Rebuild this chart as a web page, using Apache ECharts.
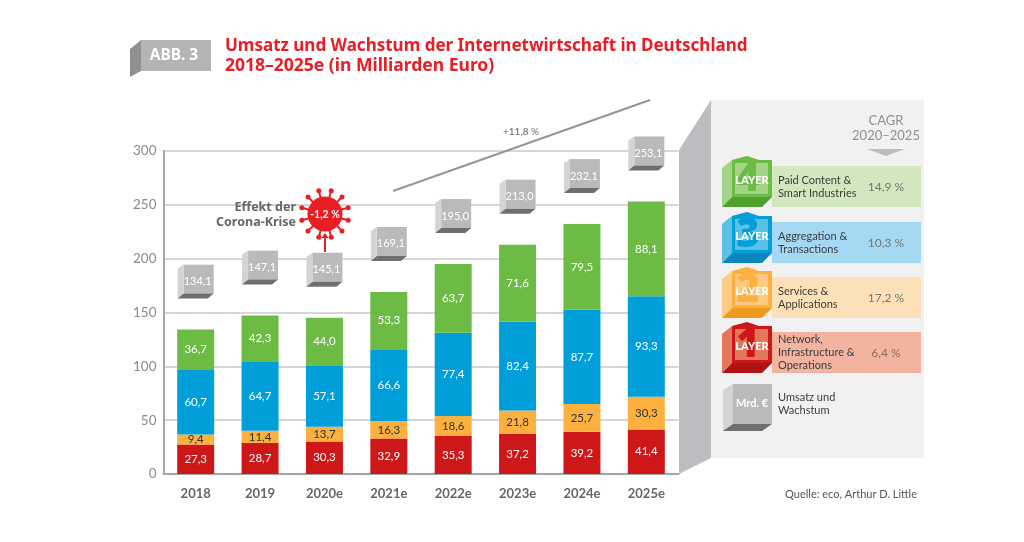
<!DOCTYPE html>
<html>
<head>
<meta charset="utf-8">
<style>
html, body { margin: 0; padding: 0; background: #fff; }
#main { width: 1024px; height: 542px; }
</style>
<script src="https://cdn.jsdelivr.net/npm/echarts@6/dist/echarts.min.js"></script>
</head>
<body>
<div id="main"></div>
<script>
const categories = ['2018', '2019', '2020e', '2021e', '2022e', '2023e', '2024e', '2025e'];
const network = [27.3, 28.7, 30.3, 32.9, 35.3, 37.2, 39.2, 41.4];
const services = [9.4, 11.4, 13.7, 16.3, 18.6, 21.8, 25.7, 30.3];
const aggregation = [60.7, 64.7, 57.1, 66.6, 77.4, 82.4, 87.7, 93.3];
const paid = [36.7, 42.3, 44.0, 53.3, 63.7, 71.6, 79.5, 88.1];
const totals = [134.1, 147.1, 145.1, 169.1, 195.0, 213.0, 232.1, 253.1];

const layerNames = [['Paid Content &', 'Smart Industries'], ['Aggregation &', 'Transactions'], ['Services &', 'Applications'], ['Network,', 'Infrastructure &', 'Operations']];
const layerNumbers = ['4', '3', '2', '1'];
const cagrValues = ['14,9 %', '10,3 %', '17,2 %', '6,4 %'];

const FONT = 'Lato';
const BOLD = '"Noto Sans"';
const RED = '#ea1c24';
const fmt = v => v.toFixed(1).replace('.', ',');

// farben: front, links, unten, band
const layerColors = [
    ['#6cbb45', '#a4d388', '#4fa02f', '#d2e7bd'],
    ['#009fda', '#5cc0e6', '#0a86bd', '#a5d8f2'],
    ['#fbb040', '#fcca82', '#f09a1e', '#fee0b8'],
    ['#cd1719', '#e2775c', '#b01316', '#f2b49e']
];

function barSeries(name, data, color, labelColor) {
    return {
        name: name,
        type: 'bar',
        stack: 'umsatz',
        barWidth: 37,
        data: data,
        itemStyle: { color: color },
        label: {
            show: true,
            position: 'inside',
            color: labelColor,
            fontFamily: FONT,
            fontSize: 11.5,
            formatter: p => fmt(p.value)
        }
    };
}

// grauer Wuerfel ueber dem Balken
function renderBox(params, api) {
    const p = api.coord([api.value(0), api.value(1)]);
    const cx = p[0];
    const front = p[1] - 36;
    const l = cx - 12, r = cx + 18, t = p[1] - 65;
    return {
        type: 'group',
        children: [
            { type: 'polygon', shape: { points: [[l, t], [r, t], [r, front], [l, front]] }, style: { fill: '#b9babc' } },
            { type: 'polygon', shape: { points: [[l - 6, t + 4], [l, t], [l, front], [l - 6, front + 5]] }, style: { fill: '#d3d4d6' } },
            { type: 'polygon', shape: { points: [[l - 6, front + 5], [l, front], [r, front], [r - 6, front + 5]] }, style: { fill: '#6e6f71' } },
            { type: 'text', style: { x: cx + 2, y: p[1] - 48, text: fmt(api.value(1)), fill: '#fff', font: '11px ' + FONT, align: 'center', verticalAlign: 'middle' } }
        ]
    };
}

function poly(points, fill) {
    return { type: 'polygon', shape: { points: points }, style: { fill: fill }, z: 5 };
}

function txt(x, y, text, font, fill, align, family) {
    return { type: 'text', x: x, y: y, style: { text: text, font: font + ' ' + (family || FONT), fill: fill, align: align || 'left', verticalAlign: 'middle' }, z: 7 };
}

function layerGraphics(i, top) {
    const c = layerColors[i];
    const out = [
        { type: 'rect', shape: { x: 772, y: top, width: 149, height: 41 }, style: { fill: c[3] }, z: 4 },
        poly([[732, top - 6], [747, top - 10], [759, top - 6], [772, top - 6], [772, top + 31], [732, top + 31]], c[0]),
        poly([[722, top + 2], [732, top - 6], [732, top + 31], [722, top + 41]], c[1]),
        poly([[722, top + 41], [732, top + 31], [772, top + 31], [762, top + 41]], c[2]),
        { type: 'rect', shape: { x: 735, y: top - 3, width: 33, height: 31 }, style: { fill: c[1] }, z: 5 },
        { type: 'text', x: 748, y: top + 14, style: { text: layerNumbers[i], font: '900 40px ' + BOLD, fill: c[0], align: 'center', verticalAlign: 'middle' }, z: 6 },
        txt(752, top + 14, 'LAYER', '900 11px', '#fff', 'center'),
        txt(886, top + 21, cagrValues[i], '12px', i === 3 ? '#8c6a5e' : '#6f7a70', 'center')
    ];
    const names = layerNames[i];
    names.forEach((s, k) => {
        out.push(txt(778, top + 20.5 + (k - (names.length - 1) / 2) * 13, s, '11px', '#3c3c3c'));
    });
    return out;
}

// Virus aus Kreis und Stacheln
function virus(cx, cy) {
    const out = [];
    for (let k = 0; k < 12; k++) {
        const a = (k + 0.5) * Math.PI * 2 / 12;
        out.push({ type: 'line', shape: { x1: cx, y1: cy, x2: cx + Math.cos(a) * 23, y2: cy + Math.sin(a) * 23 }, style: { stroke: RED, lineWidth: 2 }, z: 5 });
        out.push({ type: 'circle', shape: { cx: cx + Math.cos(a) * 24, cy: cy + Math.sin(a) * 24, r: 2.5 }, style: { fill: RED }, z: 5 });
    }
    out.push({ type: 'circle', shape: { cx: cx, cy: cy, r: 17.5 }, style: { fill: RED }, z: 5 });
    out.push(txt(cx, cy + 1, '-1,2 %', 'bold 10.5px', '#fff', 'center'));
    out.push({ type: 'line', shape: { x1: cx, y1: cy + 38, x2: cx, y2: cy + 20 }, style: { stroke: RED, lineWidth: 2 }, z: 5 });
    out.push(poly([[cx - 3.5, cy + 24], [cx + 3.5, cy + 24], [cx, cy + 19]], RED));
    return out;
}

const graphics = [
    // ABB. 3 Reiter
    poly([[130, 49], [141, 40], [141, 71], [130, 77]], '#8f9092'),
    poly([[141, 40], [211, 40], [211, 71], [141, 71]], '#b3b4b6'),
    txt(174, 56, 'ABB. 3', 'bold 15.5px', '#fff', 'center', BOLD),
    txt(225, 46, 'Umsatz und Wachstum der Internetwirtschaft in Deutschland', 'bold 17px', RED, 'left', BOLD),
    txt(225, 66, '2018\u20132025e (in Milliarden Euro)', 'bold 17.5px', RED, 'left', BOLD),
    // Seitenpanel
    { type: 'rect', shape: { x: 711, y: 100, width: 213, height: 358 }, style: { fill: '#f1f1f2' }, z: 1 },
    poly([[711, 100], [711, 458], [679, 474], [679, 150]], '#bcbdc0'),
    txt(886, 121, 'CAGR', '13px', '#8f9092', 'center'),
    txt(886, 136, '2020\u20132025', '13px', '#8f9092', 'center'),
    poly([[867, 149], [905, 149], [886, 156]], '#bcbdc0'),
    // Mrd. Wuerfel
    poly([[733, 384], [772, 384], [772, 424], [733, 424]], '#b9babc'),
    poly([[723, 390], [733, 384], [733, 424], [723, 431]], '#d3d4d6'),
    poly([[723, 431], [733, 424], [772, 424], [762, 431]], '#6e6f71'),
    txt(752, 403, 'Mrd. \u20AC', 'bold 11px', '#fff', 'center'),
    txt(778, 397, 'Umsatz und', '11px', '#3c3c3c'),
    txt(778, 410, 'Wachstum', '11px', '#3c3c3c'),
    txt(917, 494, 'Quelle: eco, Arthur D. Little', '11px', '#555', 'right'),
    // Trend
    { type: 'line', shape: { x1: 393, y1: 191, x2: 650, y2: 100 }, style: { stroke: '#949597', lineWidth: 2 }, z: 3 },
    txt(521, 132, '+11,8 %', '10px', '#666', 'center'),
    // Corona
    txt(296, 207, 'Effekt der', 'bold 12.5px', '#666', 'right', BOLD),
    txt(296, 222, 'Corona-Krise', 'bold 12.5px', '#666', 'right', BOLD)
];
for (let i = 0; i < 4; i++) {
    graphics.push(...layerGraphics(i, [166, 222, 277, 332][i]));
}
graphics.push(...virus(325, 214));

const chart = echarts.init(document.getElementById('main'), null, { renderer: 'canvas' });
chart.setOption({
    animation: false,
    backgroundColor: '#fff',
    grid: { left: 163.5, right: 345.5, top: 151, bottom: 68, containLabel: false },
    xAxis: {
        type: 'category',
        data: categories,
        axisTick: { show: false },
        axisLine: { lineStyle: { color: '#a5a6a8', width: 2 } },
        axisLabel: { color: '#666', fontFamily: FONT, fontWeight: 'bold', fontSize: 13, margin: 13 }
    },
    yAxis: {
        type: 'value',
        min: 0,
        max: 300,
        interval: 50,
        axisLine: { show: true, lineStyle: { color: '#a5a6a8', width: 2 } },
        axisTick: { show: false },
        splitLine: { lineStyle: { color: '#c8c9cb', width: 1.5 } },
        axisLabel: { color: '#8a8b8d', fontFamily: FONT, fontSize: 13.5, margin: 7, padding: [1, 0, 0, 0] }
    },
    series: [
        barSeries('Network', network, '#cd1719', '#fff'),
        barSeries('Services', services, '#fbb040', '#333'),
        barSeries('Aggregation', aggregation, '#009fda', '#fff'),
        barSeries('Paid Content', paid, '#6cbb45', '#fff'),
        {
            type: 'custom',
            name: 'Umsatz',
            data: totals.map((v, i) => [i, v]),
            encode: { x: 0, y: 1 },
            renderItem: renderBox,
            z: 4
        }
    ],
    graphic: { elements: graphics }
});
</script>
</body>
</html>
